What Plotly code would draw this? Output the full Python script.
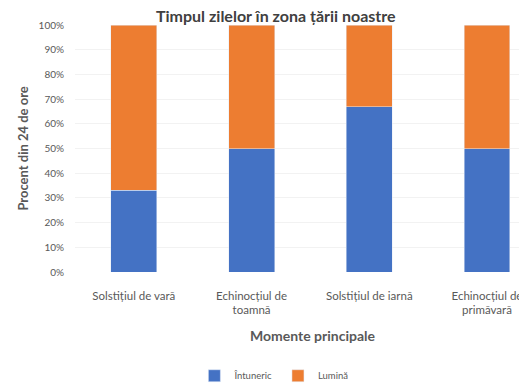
import plotly.graph_objects as go

# date
momente = ["Solstițiul de vară", "Echinocțiul de<br>toamnă", "Solstițiul de iarnă", "Echinocțiul de<br>primăvară"]
intuneric = [0.33, 0.50, 0.67, 0.50]
lumina = [0.67, 0.50, 0.33, 0.50]

albastru = "#4472C4"
portocaliu = "#ED7D31"
text_gri = "#595959"
font_familie = "Lato, Open Sans, sans-serif"

fig = go.Figure()
fig.add_trace(go.Bar(name="Întuneric", x=momente, y=intuneric, marker_color=albastru))
fig.add_trace(go.Bar(name="Lumină", x=momente, y=lumina, marker_color=portocaliu))

# pagina are o margine de 8px, asa ca figura e putin mai mica
fig.update_layout(
    width=519, height=375,
    barmode="stack",
    bargap=0.61,
    plot_bgcolor="white",
    paper_bgcolor="white",
    font=dict(family=font_familie, color=text_gri),
    margin=dict(l=67, r=0, t=17, b=111, autoexpand=False),
    title=dict(text="<b>Timpul zilelor în zona țării noastre</b>",
               x=0.516, xanchor="center", y=0.993, yanchor="top",
               font=dict(size=16, color="#404040")),
    showlegend=True,
    legend=dict(orientation="h", yref="paper", xref="paper",
                x=0.44, xanchor="center", y=-0.42, yanchor="middle",
                font=dict(size=9.5, color=text_gri), itemwidth=30,
                traceorder="normal"),
    xaxis=dict(range=[-0.5, 3.34], tickfont=dict(size=11.5, color=text_gri),
               showline=False, ticks="", ticklabelstandoff=15),
    yaxis=dict(range=[0, 1], dtick=0.1, tickformat=".0%",
               tickfont=dict(size=10, color=text_gri),
               showgrid=True, gridcolor="#F2F2F2", zeroline=False,
               ticklabelstandoff=10),
    annotations=[
        dict(text="<b>Momente principale</b>", xref="paper", yref="paper",
             x=0.527, y=-0.258, xanchor="center", yanchor="middle", showarrow=False,
             font=dict(size=14, color=text_gri)),
        dict(text="<b>Procent din 24 de ore</b>", xref="paper", yref="paper",
             x=-0.117, y=0.5, xanchor="center", yanchor="middle",
             textangle=-90, showarrow=False,
             font=dict(size=13, color=text_gri)),
    ],
)

fig.write_html("out.html")
